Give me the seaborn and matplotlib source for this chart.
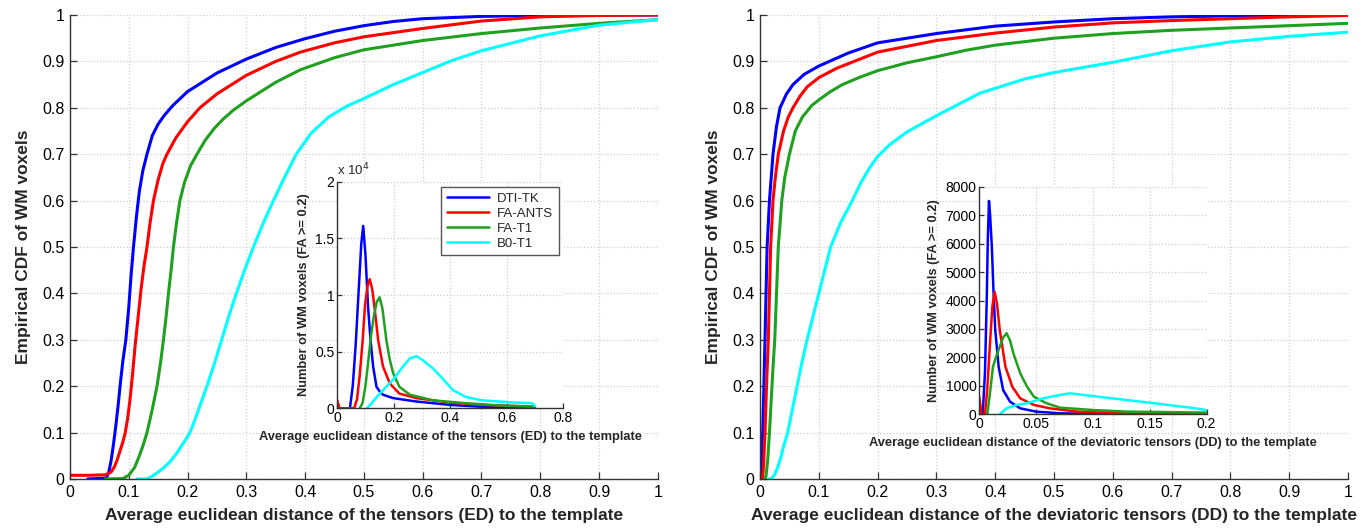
import matplotlib
matplotlib.use('Agg')
import matplotlib.pyplot as plt
import seaborn as sns
from matplotlib.ticker import FuncFormatter, MultipleLocator

# %%
# series names and colours
methods = ['DTI-TK', 'FA-ANTS', 'FA-T1', 'B0-T1']
colors = ['#0000ff', '#ff0000', '#1fa01f', '#00ffff']

# empirical CDF of ED (left panel)
ed_cdf_x_dti = [0.03, 0.062, 0.066, 0.07, 0.074, 0.078, 0.082, 0.086, 0.09, 0.095,
                0.1, 0.104, 0.108, 0.113, 0.118, 0.124, 0.131, 0.14, 0.15, 0.16,
                0.175, 0.2, 0.25, 0.3, 0.35, 0.4, 0.45, 0.5, 0.55, 0.6,
                0.7, 0.8, 0.9, 1.0]
ed_cdf_y_dti = [0.0, 0.002, 0.015, 0.04, 0.075, 0.115, 0.16, 0.21, 0.255, 0.3,
                0.37, 0.44, 0.5, 0.565, 0.62, 0.665, 0.7, 0.74, 0.765, 0.783,
                0.805, 0.835, 0.875, 0.905, 0.93, 0.949, 0.965, 0.977, 0.986, 0.992,
                0.997, 0.999, 1.0, 1.0]
ed_cdf_x_fa_ants = [0.0, 0.03, 0.06, 0.07, 0.075, 0.08, 0.085, 0.09, 0.094, 0.098,
                    0.102, 0.106, 0.111, 0.116, 0.121, 0.126, 0.131, 0.136, 0.142, 0.15,
                    0.158, 0.165, 0.18, 0.2, 0.221, 0.25, 0.3, 0.35, 0.392, 0.45,
                    0.5, 0.6, 0.7, 0.8, 0.9, 1.0]
ed_cdf_y_fa_ants = [0.008, 0.008, 0.009, 0.015, 0.025, 0.04, 0.06, 0.08, 0.1, 0.13,
                    0.17, 0.22, 0.29, 0.35, 0.41, 0.46, 0.5, 0.55, 0.6, 0.645,
                    0.68, 0.7, 0.735, 0.77, 0.8, 0.83, 0.87, 0.9, 0.92, 0.94,
                    0.953, 0.971, 0.987, 0.996, 0.999, 1.0]
ed_cdf_x_fa_t1 = [0.06, 0.09, 0.1, 0.11, 0.118, 0.125, 0.131, 0.14, 0.148, 0.154,
                  0.159, 0.1635, 0.1675, 0.172, 0.176, 0.181, 0.187, 0.195, 0.205, 0.216,
                  0.23, 0.245, 0.26, 0.278, 0.3, 0.325, 0.35, 0.392, 0.45, 0.5,
                  0.6, 0.7, 0.8, 0.9, 1.0]
ed_cdf_y_fa_t1 = [0.0, 0.001, 0.008, 0.025, 0.05, 0.075, 0.1, 0.15, 0.2, 0.25,
                  0.3, 0.35, 0.4, 0.45, 0.5, 0.55, 0.6, 0.64, 0.675, 0.7,
                  0.73, 0.755, 0.775, 0.795, 0.815, 0.835, 0.855, 0.882, 0.908, 0.925,
                  0.945, 0.96, 0.972, 0.982, 0.99]
ed_cdf_x_b0_t1 = [0.114, 0.131, 0.14, 0.15, 0.16, 0.17, 0.18, 0.19, 0.197, 0.204,
                  0.211, 0.218, 0.225, 0.233, 0.246, 0.258, 0.27, 0.283, 0.297, 0.312,
                  0.33, 0.346, 0.365, 0.385, 0.41, 0.44, 0.47, 0.5, 0.55, 0.6,
                  0.65, 0.7, 0.8, 0.9, 1.0]
ed_cdf_y_b0_t1 = [0.0, 0.0, 0.006, 0.015, 0.025, 0.037, 0.053, 0.072, 0.085, 0.1,
                  0.122, 0.147, 0.172, 0.2, 0.25, 0.3, 0.35, 0.4, 0.45, 0.5,
                  0.555, 0.6, 0.65, 0.7, 0.745, 0.78, 0.803, 0.82, 0.85, 0.876,
                  0.902, 0.923, 0.955, 0.978, 0.99]

# empirical CDF of DD (right panel)
dd_cdf_x_dti = [0.0, 0.002, 0.003, 0.0045, 0.0065, 0.0084, 0.0102, 0.012, 0.016, 0.022,
                0.028, 0.034, 0.045, 0.056, 0.075, 0.1, 0.15, 0.2, 0.3, 0.4,
                0.5, 0.6, 0.7, 0.8, 0.9, 1.0]
dd_cdf_y_dti = [0.0, 0.0, 0.03, 0.1, 0.2, 0.3, 0.4, 0.5, 0.6, 0.7,
                0.76, 0.8, 0.83, 0.85, 0.872, 0.89, 0.918, 0.94, 0.96, 0.976,
                0.985, 0.992, 0.996, 0.998, 0.999, 1.0]
dd_cdf_x_fa_ants = [0.004, 0.006, 0.0084, 0.011, 0.014, 0.016, 0.018, 0.022, 0.026, 0.031,
                    0.04, 0.048, 0.056, 0.068, 0.08, 0.1, 0.13, 0.17, 0.2, 0.3,
                    0.4, 0.5, 0.6, 0.7, 0.8, 0.9, 1.0]
dd_cdf_y_fa_ants = [0.0, 0.03, 0.1, 0.2, 0.3, 0.4, 0.5, 0.6, 0.65, 0.7,
                    0.75, 0.78, 0.8, 0.825, 0.845, 0.865, 0.885, 0.905, 0.92, 0.945,
                    0.961, 0.974, 0.983, 0.988, 0.992, 0.996, 0.999]
dd_cdf_x_fa_t1 = [0.008, 0.01, 0.013, 0.016, 0.019, 0.022, 0.025, 0.028, 0.031, 0.034,
                  0.037, 0.042, 0.05, 0.06, 0.072, 0.088, 0.1, 0.12, 0.14, 0.17,
                  0.2, 0.25, 0.3, 0.35, 0.4, 0.5, 0.6, 0.7, 0.8, 0.9,
                  1.0]
dd_cdf_y_fa_t1 = [0.0, 0.005, 0.04, 0.1, 0.17, 0.24, 0.3, 0.4, 0.5, 0.55,
                  0.6, 0.65, 0.7, 0.75, 0.78, 0.805, 0.817, 0.835, 0.85, 0.866,
                  0.88, 0.897, 0.91, 0.924, 0.935, 0.95, 0.96, 0.967, 0.972, 0.977,
                  0.982]
dd_cdf_x_b0_t1 = [0.015, 0.019, 0.025, 0.03, 0.035, 0.04, 0.047, 0.055, 0.063, 0.071,
                  0.08, 0.09, 0.1, 0.11, 0.12, 0.138, 0.157, 0.17, 0.185, 0.2,
                  0.22, 0.25, 0.3, 0.375, 0.45, 0.5, 0.6, 0.7, 0.8, 0.9,
                  1.0]
dd_cdf_y_b0_t1 = [0.0, 0.0, 0.01, 0.025, 0.045, 0.07, 0.1, 0.15, 0.2, 0.25,
                  0.3, 0.35, 0.4, 0.45, 0.5, 0.555, 0.6, 0.635, 0.668, 0.695,
                  0.72, 0.748, 0.783, 0.832, 0.862, 0.876, 0.898, 0.923, 0.942, 0.954,
                  0.963]

# histograms of ED (left inset), voxel counts
ed_hist_x_dti = [0.0, 0.045, 0.055, 0.065, 0.075, 0.085, 0.092, 0.1, 0.109, 0.118,
                 0.127, 0.139, 0.15, 0.162, 0.198, 0.28, 0.4, 0.5, 0.6, 0.7]
ed_hist_y_dti = [0, 0, 2000, 5500, 10000, 14500, 16100, 13500, 9000, 6000,
                 3700, 1900, 1500, 1200, 900, 600, 300, 150, 80, 30]
ed_hist_x_fa_ants = [0.0, 0.008, 0.06, 0.07, 0.08, 0.09, 0.098, 0.107, 0.115, 0.124,
                     0.133, 0.145, 0.162, 0.186, 0.22, 0.28, 0.4, 0.515, 0.69]
ed_hist_y_fa_ants = [700, 0, 0, 800, 3000, 6000, 9000, 10800, 11400, 10500,
                     8700, 6000, 3700, 2200, 1300, 900, 500, 300, 150]
ed_hist_x_fa_t1 = [0.08, 0.09, 0.1, 0.11, 0.12, 0.13, 0.14, 0.15, 0.16, 0.174,
                   0.186, 0.198, 0.22, 0.257, 0.34, 0.456, 0.574, 0.7]
ed_hist_y_fa_t1 = [0, 500, 2000, 4200, 6500, 8200, 9400, 9800, 8800, 6000,
                   4300, 3100, 1900, 1200, 700, 450, 250, 150]
ed_hist_x_b0_t1 = [0.105, 0.12, 0.14, 0.162, 0.2, 0.233, 0.257, 0.28, 0.3, 0.34,
                   0.374, 0.41, 0.456, 0.515, 0.633, 0.69, 0.7]
ed_hist_y_b0_t1 = [0, 400, 1000, 1600, 2600, 3700, 4400, 4600, 4300, 3500,
                   2600, 1600, 1000, 700, 500, 450, 200]

# histograms of DD (right inset), voxel counts
dd_hist_x_dti = [0.0, 0.003, 0.005, 0.0065, 0.0075, 0.0085, 0.0095, 0.011, 0.0125, 0.014,
                 0.017, 0.021, 0.027, 0.036, 0.05, 0.071, 0.1, 0.15, 0.2]
dd_hist_y_dti = [0, 0, 1500, 4000, 6200, 7500, 7000, 5900, 4300, 2960,
                 1670, 850, 445, 210, 94, 35, 15, 5, 0]
dd_hist_x_fa_ants = [0.0, 0.002, 0.005, 0.007, 0.0094, 0.0115, 0.0135, 0.0155, 0.018, 0.023,
                     0.029, 0.036, 0.048, 0.062, 0.086, 0.13, 0.2]
dd_hist_y_fa_ants = [600, 0, 0, 900, 2500, 3800, 4300, 3900, 2960, 1670,
                     970, 560, 330, 210, 94, 35, 10]
dd_hist_x_fa_t1 = [0.007, 0.009, 0.012, 0.015, 0.018, 0.021, 0.024, 0.027, 0.03, 0.036,
                   0.042, 0.048, 0.059, 0.071, 0.1, 0.13, 0.2]
dd_hist_y_fa_t1 = [0, 620, 1670, 2050, 2380, 2700, 2850, 2600, 2140, 1440,
                   970, 620, 390, 234, 150, 94, 60]
dd_hist_x_b0_t1 = [0.018, 0.024, 0.033, 0.042, 0.056, 0.071, 0.08, 0.1, 0.13, 0.16,
                   0.19, 0.2]
dd_hist_y_b0_t1 = [0, 210, 330, 390, 560, 680, 740, 640, 500, 360,
                   210, 150]

ed_cdf = [(ed_cdf_x_dti, ed_cdf_y_dti), (ed_cdf_x_fa_ants, ed_cdf_y_fa_ants),
          (ed_cdf_x_fa_t1, ed_cdf_y_fa_t1), (ed_cdf_x_b0_t1, ed_cdf_y_b0_t1)]
dd_cdf = [(dd_cdf_x_dti, dd_cdf_y_dti), (dd_cdf_x_fa_ants, dd_cdf_y_fa_ants),
          (dd_cdf_x_fa_t1, dd_cdf_y_fa_t1), (dd_cdf_x_b0_t1, dd_cdf_y_b0_t1)]
ed_hist = [(ed_hist_x_dti, ed_hist_y_dti), (ed_hist_x_fa_ants, ed_hist_y_fa_ants),
           (ed_hist_x_fa_t1, ed_hist_y_fa_t1), (ed_hist_x_b0_t1, ed_hist_y_b0_t1)]
dd_hist = [(dd_hist_x_dti, dd_hist_y_dti), (dd_hist_x_fa_ants, dd_hist_y_fa_ants),
           (dd_hist_x_fa_t1, dd_hist_y_fa_t1), (dd_hist_x_b0_t1, dd_hist_y_b0_t1)]

# %%
sns.set_theme(style='whitegrid', rc={
    'grid.color': '#cfcfcf', 'grid.linestyle': ':', 'grid.linewidth': 0.9,
    'axes.edgecolor': '#333333', 'xtick.direction': 'in', 'ytick.direction': 'in',
    'xtick.color': '#333333', 'ytick.color': '#333333',
    'xtick.labelcolor': 'black', 'ytick.labelcolor': 'black',
})
plt.rcParams['font.family'] = ['Liberation Sans', 'DejaVu Sans']

fig = plt.figure(figsize=(13.67, 5.3), dpi=100)

num_fmt = FuncFormatter(lambda v, p: f'{v:g}')


def style_axes(ax, tick_size, tick_len):
    for side in ['top', 'right']:
        ax.spines[side].set_visible(False)
    for side in ['left', 'bottom']:
        ax.spines[side].set_linewidth(1.0)
        ax.spines[side].set_color('#333333')
    ax.tick_params(axis='both', which='major', direction='in', length=tick_len,
                   width=0.9, labelsize=tick_size, bottom=True, left=True, pad=4)
    ax.grid(True)


def draw_main(rect, curves, xlabel):
    ax = fig.add_axes(rect)
    for (xs, ys), name, c in zip(curves, methods, colors):
        sns.lineplot(x=xs, y=ys, ax=ax, color=c, linewidth=2.2, estimator=None,
                     sort=False, label=name, legend=False)
    ax.set_xlim(0, 1)
    ax.set_ylim(0, 1)
    ax.xaxis.set_major_locator(MultipleLocator(0.1))
    ax.yaxis.set_major_locator(MultipleLocator(0.1))
    ax.xaxis.set_major_formatter(num_fmt)
    ax.yaxis.set_major_formatter(num_fmt)
    style_axes(ax, 11.5, 5)
    ax.set_xlabel(xlabel, fontsize=12.5, fontweight='bold', labelpad=6)
    ax.set_ylabel('Empirical CDF of WM voxels', fontsize=12.5, fontweight='bold', labelpad=8)
    return ax


def draw_inset(rect, curves, xlabel, xmax, xstep, ymax, ystep, yfmt):
    ax = fig.add_axes(rect)
    ax.set_facecolor('white')
    for (xs, ys), name, c in zip(curves, methods, colors):
        sns.lineplot(x=xs, y=ys, ax=ax, color=c, linewidth=1.8, estimator=None,
                     sort=False, label=name, legend=False)
    ax.set_xlim(0, xmax)
    ax.set_ylim(0, ymax)
    ax.xaxis.set_major_locator(MultipleLocator(xstep))
    ax.yaxis.set_major_locator(MultipleLocator(ystep))
    ax.xaxis.set_major_formatter(num_fmt)
    ax.yaxis.set_major_formatter(yfmt)
    style_axes(ax, 10, 3.5)
    ax.tick_params(pad=2)
    ax.set_xlabel(xlabel, fontsize=9.3, fontweight='bold', labelpad=4)
    ax.set_ylabel('Number of WM voxels (FA >= 0.2)', fontsize=9.3, fontweight='bold', labelpad=4)
    return ax


draw_main([0.0512, 0.0962, 0.4300, 0.8755], ed_cdf,
          'Average euclidean distance of the tensors (ED) to the template')
draw_main([0.5560, 0.0962, 0.4300, 0.8755], dd_cdf,
          'Average euclidean distance of the deviatoric tensors (DD) to the template')

ax_ed = draw_inset([0.2467, 0.2296, 0.1653, 0.4275], ed_hist,
                   'Average euclidean distance of the tensors (ED) to the template',
                   0.8, 0.2, 20000, 5000, FuncFormatter(lambda v, p: f'{v / 1e4:g}'))
ax_ed.text(0.0, 1.015, r'x 10$^4$', transform=ax_ed.transAxes, fontsize=9.5,
           ha='left', va='bottom')
ax_ed.legend(loc='upper right', bbox_to_anchor=(0.982, 0.978), borderaxespad=0,
             fontsize=9.5, frameon=True, fancybox=False, edgecolor='#555555',
             framealpha=1, handlelength=3.2, handletextpad=0.6, borderpad=0.45,
             labelspacing=0.2)

draw_inset([0.7164, 0.2183, 0.1663, 0.4294], dd_hist,
           'Average euclidean distance of the deviatoric tensors (DD) to the template',
           0.2, 0.05, 8000, 1000, num_fmt)

fig.savefig('out.png', dpi=100)
